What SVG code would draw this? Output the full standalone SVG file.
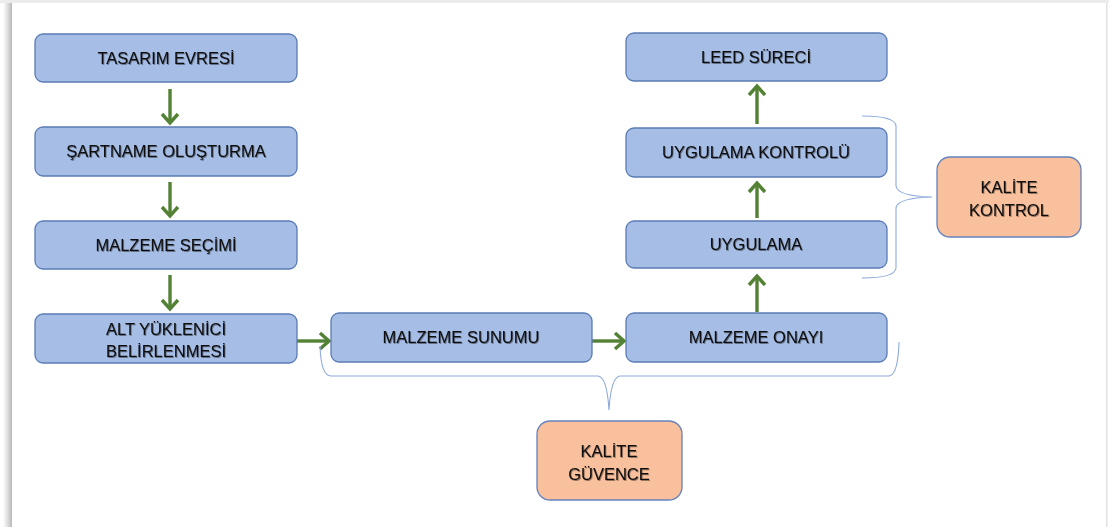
<svg xmlns="http://www.w3.org/2000/svg" width="1109" height="527" viewBox="0 0 1109 527">
<defs>
<style>
.box{fill:#A6BDE5;stroke:#5A7BB5;stroke-width:1.3}
.org{fill:#F8C09C;stroke:#6682BC;stroke-width:1.3}
.t{font-family:"Liberation Sans",Arial,sans-serif;font-size:16.5px;fill:#0a0a0a;text-anchor:middle;filter:url(#ts)}
.arr{stroke:#548235;stroke-width:3.4;fill:none;marker-end:url(#ah)}
.brace{stroke:#8EAADB;stroke-width:1.1;fill:none}
</style>
<filter id="ts" x="-10%" y="-30%" width="120%" height="160%">
<feDropShadow dx="0.8" dy="0.9" stdDeviation="0.7" flood-color="#000" flood-opacity="0.45"/>
</filter>
<linearGradient id="lb" x1="0" x2="1" y1="0" y2="0">
<stop offset="0" stop-color="#fff"/>
<stop offset="0.6" stop-color="#d8d8d8"/>
<stop offset="1" stop-color="#b8b8b8"/>
</linearGradient>
<marker id="ah" markerUnits="userSpaceOnUse" markerWidth="18" markerHeight="20" refX="10" refY="8" orient="auto" viewBox="0 0 18 16" overflow="visible">
<path d="M1,0 L10,8 L1,16" fill="none" stroke="#548235" stroke-width="3.4"/>
</marker>
</defs>
<rect x="0" y="0" width="1109" height="527" fill="#fff"/>
<g id="frame">
<rect x="0" y="0" width="1109" height="3" fill="#ececec"/>
<rect x="3" y="3" width="9" height="524" fill="url(#lb)"/>
<rect x="1106" y="3" width="1.5" height="524" fill="#e2e2e2"/>
</g>
<g id="connectors">
<line class="arr" x1="170" y1="89" x2="170" y2="123"/>
<line class="arr" x1="170" y1="182" x2="170" y2="216"/>
<line class="arr" x1="170" y1="275" x2="170" y2="309"/>
<line class="arr" x1="297" y1="341" x2="329" y2="341"/>
<line class="arr" x1="592" y1="341" x2="624" y2="341"/>
<line class="arr" x1="757" y1="312" x2="757" y2="276"/>
<line class="arr" x1="757" y1="218" x2="757" y2="183"/>
<line class="arr" x1="757" y1="124" x2="757" y2="86"/>
<path class="brace" d="M320,346 Q321,376 331,376 L598,376 Q607,377 609,410 Q611,377 620,376 L889,376 Q898,375 899,342"/>
<path class="brace" d="M862,116 Q895,116 896,126 L896,186 Q897,196 932,197 Q897,198 896,208 L896,268 Q895,278 862,278"/>
</g>
<g id="n1"><rect class="box" x="35" y="34" width="262" height="48" rx="8"/><text class="t" x="166" y="64">TASARIM EVRESİ</text></g>
<g id="n2"><rect class="box" x="35" y="127" width="262" height="49" rx="8"/><text class="t" x="166" y="157">ŞARTNAME OLUŞTURMA</text></g>
<g id="n3"><rect class="box" x="35" y="221" width="262" height="48" rx="8"/><text class="t" x="166" y="251">MALZEME SEÇİMİ</text></g>
<g id="n4"><rect class="box" x="35" y="314" width="262" height="49" rx="8"/><text class="t" x="166" y="335">ALT YÜKLENİCİ</text><text class="t" x="166" y="357">BELİRLENMESİ</text></g>
<g id="n5"><rect class="box" x="331" y="313" width="261" height="49" rx="8"/><text class="t" x="461" y="343">MALZEME SUNUMU</text></g>
<g id="n6"><rect class="box" x="626" y="313" width="261" height="49" rx="8"/><text class="t" x="756" y="343">MALZEME ONAYI</text></g>
<g id="n7"><rect class="box" x="626" y="221" width="261" height="47" rx="8"/><text class="t" x="756" y="250">UYGULAMA</text></g>
<g id="n8"><rect class="box" x="626" y="128" width="261" height="49" rx="8"/><text class="t" x="756" y="158">UYGULAMA KONTROLÜ</text></g>
<g id="n9"><rect class="box" x="626" y="33" width="261" height="48" rx="8"/><text class="t" x="756" y="63">LEED SÜRECİ</text></g>
<g id="n10"><rect class="org" x="937" y="157" width="144" height="80" rx="13"/><text class="t" x="1009" y="193">KALİTE</text><text class="t" x="1009" y="216">KONTROL</text></g>
<g id="n11"><rect class="org" x="537" y="421" width="145" height="79" rx="13"/><text class="t" x="609" y="457">KALİTE</text><text class="t" x="609" y="480">GÜVENCE</text></g>
</svg>
